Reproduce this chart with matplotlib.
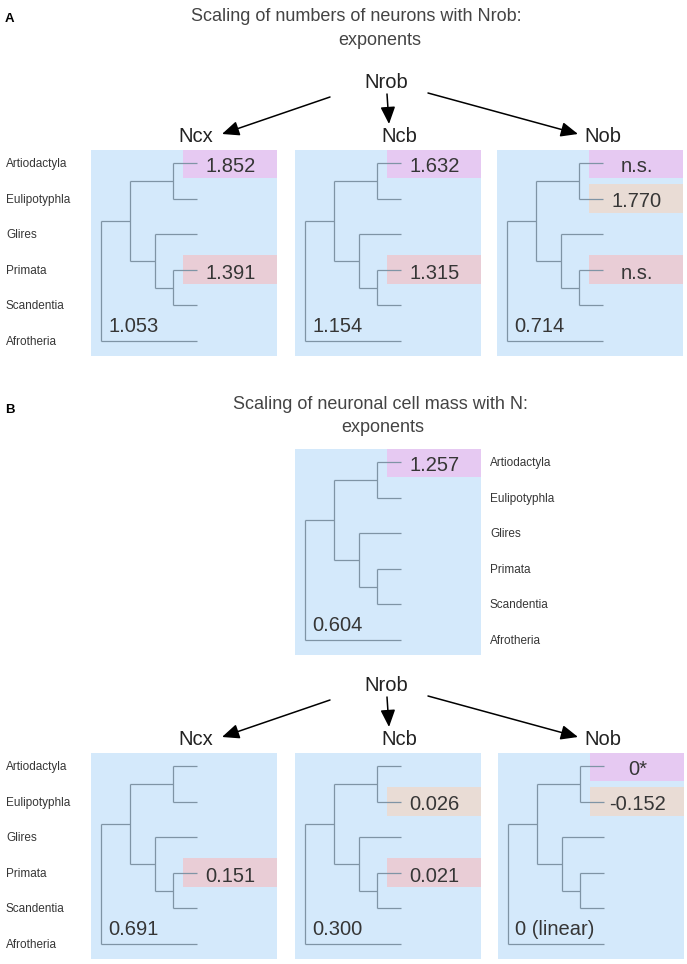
import matplotlib.pyplot as plt
from matplotlib.transforms import blended_transform_factory

plt.rcParams['font.family'] = ['Liberation Sans', 'DejaVu Sans']

# clades shown on every tree, top to bottom
clades = ["Artiodactyla", "Eulipotyphla", "Glires", "Primata", "Scandentia", "Afrotheria"]

# tree topology (internal node -> children) and node depth as fraction of box width
tree = {"root": ["boreo", "Afrotheria"],
        "boreo": ["laur", "euarch"],
        "laur": ["Artiodactyla", "Eulipotyphla"],
        "euarch": ["Glires", "prsc"],
        "prsc": ["Primata", "Scandentia"]}
node_depth = {"root": 0.054, "boreo": 0.207, "euarch": 0.344, "laur": 0.441, "prsc": 0.441}
tip_depth = 0.57

hl_colors = {"Artiodactyla": "#e6c9f2", "Eulipotyphla": "#e9dcd5", "Primata": "#e9cdd6"}

# A: scaling of numbers of neurons with Nrob
a_source = "Nrob"
a_targets = ["Ncx", "Ncb", "Nob"]
a_base = ["1.053", "1.154", "0.714"]
a_clade_vals = [{"Artiodactyla": "1.852", "Primata": "1.391"},
                {"Artiodactyla": "1.632", "Primata": "1.315"},
                {"Artiodactyla": "n.s.", "Eulipotyphla": "1.770", "Primata": "n.s."}]

# B: scaling of neuronal cell mass with N
b_mass_base = "0.604"
b_mass_vals = {"Artiodactyla": "1.257"}
b_source = "Nrob"
b_targets = ["Ncx", "Ncb", "Nob"]
b_base = ["0.691", "0.300", "0 (linear)"]
b_clade_vals = [{"Primata": "0.151"},
                {"Eulipotyphla": "0.026", "Primata": "0.021"},
                {"Artiodactyla": "0*", "Eulipotyphla": "-0.152"}]

W, H = 687, 964
BOX_W, BOX_H = 186, 206
ROW = 35.6
TXT = "#363636"
LINE = "#7f94a5"

fig = plt.figure(figsize=(W / 100, H / 100), dpi=100)
fig.patch.set_facecolor("white")

ov = fig.add_axes([0, 0, 1, 1])
ov.set_xlim(0, W)
ov.set_ylim(H, 0)
ov.axis("off")


def node_y(n):
    if n in tree:
        ys = [node_y(c) for c in tree[n]]
        return (min(ys) + max(ys)) / 2
    return clades.index(n)


def draw_tree(ax, n):
    x = node_depth[n]
    ys = []
    for c in tree[n]:
        cy = node_y(c)
        cx = node_depth.get(c, tip_depth)
        ax.plot([x, cx], [cy, cy], color=LINE, lw=0.9, zorder=3, solid_capstyle="butt")
        if c in tree:
            draw_tree(ax, c)
        ys.append(cy)
    ax.plot([x, x], [min(ys), max(ys)], color=LINE, lw=0.9, zorder=3, solid_capstyle="butt")


def panel(left, top, base, vals, labels=None):
    ax = fig.add_axes([left / W, 1 - (top + BOX_H) / H, BOX_W / W, BOX_H / H])
    top_row = -13 / ROW
    ax.set_xlim(0, 1)
    ax.set_ylim(top_row + BOX_H / ROW, top_row)
    ax.set_facecolor("#d4e9fb")
    for s in ax.spines.values():
        s.set_visible(False)
    ax.set_xticks([])
    ax.set_yticks([])
    for clade, v in vals.items():
        r = clades.index(clade)
        ax.barh(r, 1 - 0.495, left=0.495, height=0.82, color=hl_colors[clade], zorder=1)
        ax.text(0.75, r + 0.245, v, ha="center", va="baseline", fontsize=14.5, color=TXT, zorder=4)
    draw_tree(ax, "root")
    ax.text(17 / BOX_W, top_row + 182 / ROW, base, ha="left", va="baseline",
            fontsize=14.5, color=TXT)
    if labels is not None:
        tr = blended_transform_factory(fig.transFigure, ax.transData)
        for i, c in enumerate(clades):
            ax.text(labels / W, i + 0.11, c, transform=tr, ha="left", va="baseline",
                    fontsize=8.5, color=TXT, clip_on=False)
    return ax


def arrows_row(dy, source, targets):
    ov.text(386, 88 + dy, source, ha="center", va="baseline", fontsize=14.5, color="#222222")
    centers = [196, 399, 603]
    for cx, t in zip(centers, targets):
        ov.text(cx, 142 + dy, t, ha="center", va="baseline", fontsize=14.5, color="#222222")
    starts = [(330, 97), (387, 94), (428, 93)]
    ends = [(222, 134), (389, 124), (578, 134)]
    for (x0, y0), (x1, y1) in zip(starts, ends):
        ov.annotate("", xy=(x1, y1 + dy), xytext=(x0, y0 + dy),
                    arrowprops=dict(arrowstyle="-|>,head_length=0.65,head_width=0.28",
                                    color="black", lw=1.1, mutation_scale=16,
                                    shrinkA=0, shrinkB=0))


# panel A
ov.text(5, 22, "A", fontsize=9.5, fontweight="bold", color="black", va="baseline")
ov.text(356, 21, "Scaling of numbers of neurons with Nrob:", ha="center", va="baseline",
        fontsize=13, color="#444444")
ov.text(380, 45, "exponents", ha="center", va="baseline", fontsize=13, color="#444444")
arrows_row(0, a_source, a_targets)
lefts = [91, 295, 497]
for i in range(3):
    panel(lefts[i], 150, a_base[i], a_clade_vals[i], labels=6 if i == 0 else None)

# panel B
ov.text(5, 413, "B", fontsize=9.5, fontweight="bold", color="black", va="baseline")
ov.text(380, 409, "Scaling of neuronal cell mass with N:", ha="center", va="baseline",
        fontsize=13, color="#444444")
ov.text(383, 432, "exponents", ha="center", va="baseline", fontsize=13, color="#444444")
panel(295, 449, b_mass_base, b_mass_vals, labels=490)

arrows_row(603, b_source, b_targets)
for i in range(3):
    panel(lefts[i] + (1 if i == 2 else 0), 753, b_base[i], b_clade_vals[i],
          labels=6 if i == 0 else None)

fig.savefig("out.png", dpi=100, facecolor="white")
